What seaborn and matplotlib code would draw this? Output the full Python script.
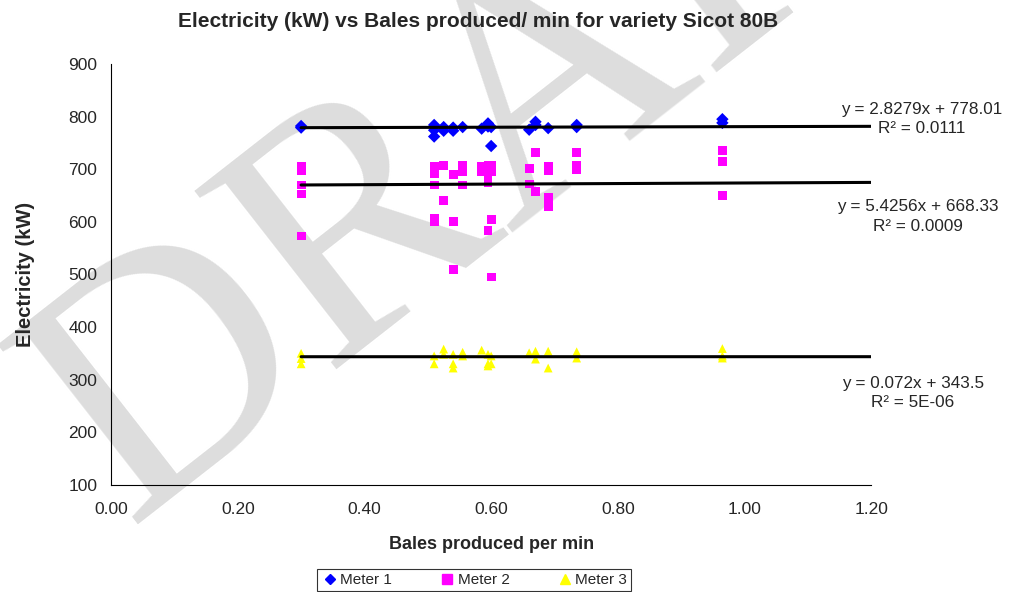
import numpy as np
import pandas as pd
import matplotlib
matplotlib.use("Agg")
import matplotlib.pyplot as plt
import seaborn as sns

# readings per meter (bales/min, kW)
m1_x = [0.30, 0.30, 0.51, 0.51, 0.51, 0.525, 0.525, 0.54, 0.54, 0.555, 0.585,
        0.595, 0.595, 0.60, 0.60, 0.66, 0.67, 0.67, 0.69, 0.735, 0.735, 0.965, 0.965]
m1_y = [782, 779, 784, 774, 762, 780, 773, 779, 773, 780, 777,
        787, 781, 780, 744, 775, 790, 784, 778, 784, 780, 795, 788]

m2_x = [0.30, 0.30, 0.30, 0.30, 0.30,
        0.51, 0.51, 0.51, 0.51, 0.51, 0.51,
        0.525, 0.525, 0.54, 0.54, 0.54, 0.555, 0.555, 0.555, 0.585, 0.585,
        0.595, 0.595, 0.595, 0.595, 0.595, 0.60, 0.60, 0.60, 0.60,
        0.66, 0.66, 0.67, 0.67, 0.69, 0.69, 0.69, 0.69,
        0.735, 0.735, 0.735, 0.965, 0.965, 0.965]
m2_y = [705, 697, 670, 653, 573,
        706, 698, 691, 670, 606, 600,
        707, 640, 690, 600, 510, 707, 695, 670, 705, 695,
        708, 700, 690, 675, 583, 707, 695, 604, 495,
        701, 672, 731, 658, 705, 697, 646, 629,
        731, 707, 700, 735, 715, 650]

m3_x = [0.30, 0.30, 0.30, 0.51, 0.51, 0.525, 0.525, 0.54, 0.54, 0.54,
        0.555, 0.555, 0.585, 0.595, 0.595, 0.595, 0.60, 0.60,
        0.66, 0.67, 0.67, 0.69, 0.69, 0.735, 0.735, 0.965, 0.965, 0.965]
m3_y = [350, 340, 330, 345, 330, 358, 348, 348, 330, 322,
        352, 345, 356, 348, 330, 326, 345, 330,
        351, 354, 339, 354, 322, 353, 341, 359, 345, 341]

# excel trendlines
slopes = [2.8279, 5.4256, 0.072]
intercepts = [778.01, 668.33, 343.5]
r2_text = ["0.0111", "0.0009", "5E-06"]
eq_text = ["y = 2.8279x + 778.01", "y = 5.4256x + 668.33", "y = 0.072x + 343.5"]
meters = ["Meter 1", "Meter 2", "Meter 3"]
colors = ["#0000ff", "#ff00ff", "#ffff00"]
marks = ["D", "s", "^"]

df = pd.concat([
    pd.DataFrame({"x": m1_x, "y": m1_y, "meter": "Meter 1"}),
    pd.DataFrame({"x": m2_x, "y": m2_y, "meter": "Meter 2"}),
    pd.DataFrame({"x": m3_x, "y": m3_y, "meter": "Meter 3"}),
])

sns.set_style("white")
plt.rcParams["font.family"] = ["Liberation Sans", "DejaVu Sans"]

fig = plt.figure(figsize=(10.19, 5.92), dpi=100)
ax = fig.add_axes([0.109, 0.181, 0.746, 0.711])
ax.set_facecolor("none")
ax.set_zorder(2)

# DRAFT watermark behind the plot
fig.text(0.126, 0.113, "DRAFT", fontsize=250, family="Liberation Serif",
         color="#dddddd", rotation=38, rotation_mode="anchor",
         ha="left", va="baseline", zorder=-5)

sns.scatterplot(data=df, x="x", y="y", hue="meter", style="meter",
                palette=dict(zip(meters, colors)),
                markers=dict(zip(meters, marks)),
                s=40, linewidth=0, ax=ax, zorder=3)

xl = np.array([0.30, 1.20])
for a, b in zip(slopes, intercepts):
    ax.plot(xl, a * xl + b, color="black", lw=2.2, zorder=4)

for eq, r2, (tx, ty) in zip(eq_text, r2_text, [(1.279, 796), (1.274, 610), (1.266, 275)]):
    ax.text(tx, ty, eq + "\nR\u00b2 = " + r2, ha="center", va="center",
            fontsize=12.3, linespacing=1.35, clip_on=False)

ax.set_xlim(0, 1.2)
ax.set_ylim(100, 900)
ax.set_xticks(np.arange(0, 1.21, 0.2))
ax.set_xticklabels(["%.2f" % v for v in np.arange(0, 1.21, 0.2)])
ax.set_yticks(range(100, 901, 100))
ax.tick_params(axis="both", labelsize=12.5, length=4, width=0.8, direction="out",
               color="black", pad=6)
ax.tick_params(axis="x", pad=8)
for s in ["top", "right"]:
    ax.spines[s].set_visible(False)
for s in ["left", "bottom"]:
    ax.spines[s].set_color("black")
    ax.spines[s].set_linewidth(0.8)

ax.set_xlabel("Bales produced per min", fontsize=13, fontweight="bold", labelpad=14)
ax.set_ylabel("Electricity (kW)", fontsize=14.5, fontweight="bold", labelpad=24)
fig.text(0.469, 0.963, "Electricity (kW) vs Bales produced/ min for variety Sicot 80B",
         ha="center", va="center", fontsize=15, fontweight="bold")

ax.legend_.remove()
handles = [plt.Line2D([], [], marker=m, color=c, linestyle="", markersize=ms)
           for m, c, ms in zip(marks, colors, [5, 7, 7])]
leg = fig.legend(handles, meters, loc="center", bbox_to_anchor=(0.465, 0.0203),
                 ncol=3, fontsize=11, frameon=True, fancybox=False, edgecolor="black",
                 handletextpad=0.1, columnspacing=3.0, borderpad=0.25, handlelength=1.2)
leg.get_frame().set_linewidth(0.8)

fig.savefig("out.png", dpi=100)
